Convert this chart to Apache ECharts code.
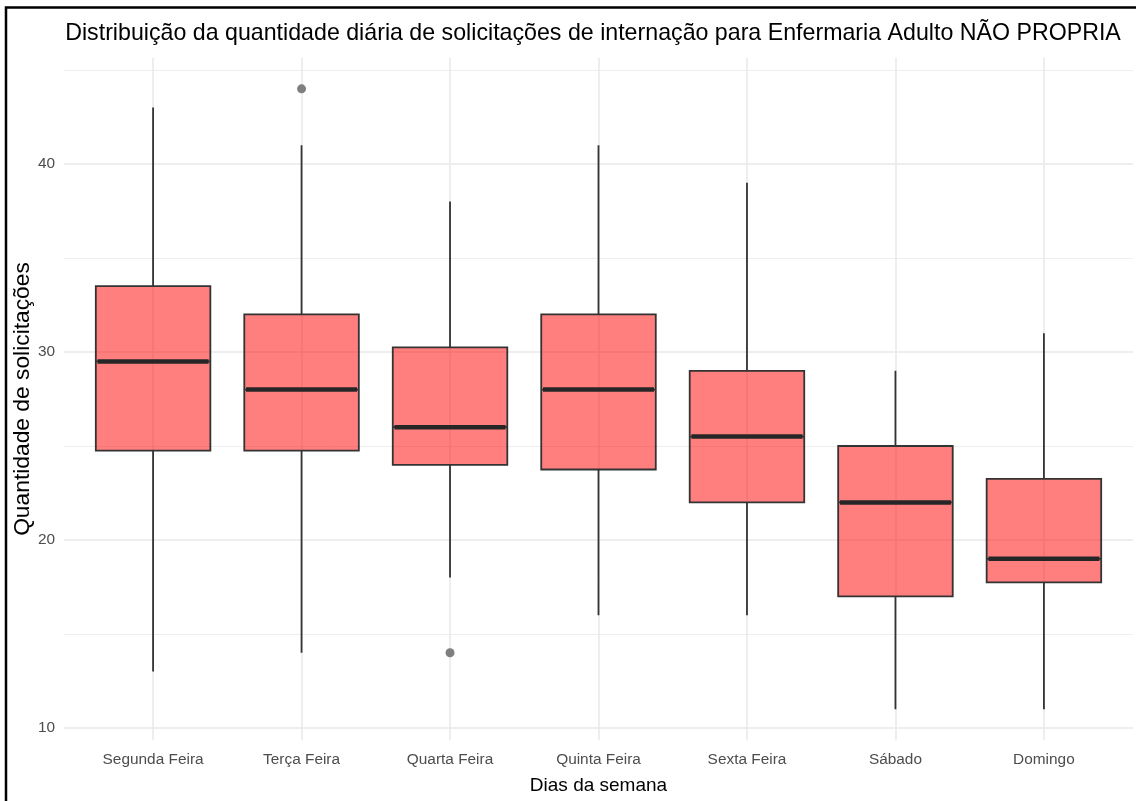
<!DOCTYPE html>
<html>
<head>
<meta charset="utf-8">
<script src="https://cdn.jsdelivr.net/npm/echarts@6/dist/echarts.min.js"></script>
<style>
html,body{margin:0;padding:0;background:#fff;}
#chart{width:1136px;height:801px;}
</style>
</head>
<body>
<div id="chart"></div>
<script>
const categories = ['Segunda Feira','Terça Feira','Quarta Feira','Quinta Feira','Sexta Feira','Sábado','Domingo'];
const whiskerMin = [13, 14, 18, 16, 16, 11, 11];
const q1 =        [24.75, 24.75, 24, 23.75, 22, 17, 17.75];
const median =    [29.5, 28, 26, 28, 25.5, 22, 19];
const q3 =        [33.5, 32, 30.25, 32, 29, 25, 23.25];
const whiskerMax = [43, 41, 38, 41, 39, 29, 31];
// outliers: [category index (1-based), value]
const outliers = [[2, 44], [3, 14]];
const yTicks = [10, 20, 30, 40];

const FONT = "'Liberation Sans Narrow', 'Arial Narrow', 'Liberation Sans', Arial, sans-serif";

const boxData = categories.map((c, i) => [i + 1, q1[i], q1[i], median[i], q3[i], q3[i]]);
const medianData = categories.map((c, i) => [i + 1, median[i]]);
const whiskerData = [];
categories.forEach((c, i) => {
  whiskerData.push([i + 1, whiskerMin[i]], [i + 1, q1[i]], [i + 1, '-']);
  whiskerData.push([i + 1, q3[i]], [i + 1, whiskerMax[i]], [i + 1, '-']);
});

const chart = echarts.init(document.getElementById('chart'), null, {renderer: 'canvas'});
chart.setOption({
  animation: false,
  backgroundColor: '#ffffff',
  title: {
    text: 'Distribuição da quantidade diária de solicitações de internação para Enfermaria Adulto NÃO PROPRIA',
    left: 588, top: 17, textAlign: 'center',
    textStyle: {fontFamily: FONT, fontSize: 23.2, fontWeight: 'normal', color: '#000'}
  },
  grid: {left: 64, right: 3, top: 57.8, bottom: 60.8, containLabel: false, outerBoundsMode: 'none'},
  xAxis: {
    type: 'value', min: 0.4, max: 7.6, minInterval: 1, maxInterval: 1,
    name: 'Dias da semana', nameLocation: 'middle', nameGap: 36, nameMoveOverlap: false,
    nameTextStyle: {fontFamily: FONT, fontSize: 19, color: '#000'},
    axisLine: {show: false}, axisTick: {show: false},
    axisLabel: {
      showMinLabel: false, showMaxLabel: false, margin: 12,
      fontFamily: FONT, fontSize: 15.4, color: '#4d4d4d',
      formatter: v => Number.isInteger(v) && v >= 1 && v <= categories.length ? categories[v - 1] : ''
    },
    splitLine: {show: true, showMinLine: false, showMaxLine: false, lineStyle: {color: '#e8e8e8', width: 1.5}}
  },
  yAxis: {
    type: 'value', min: 9.35, max: 45.65, minInterval: 10, maxInterval: 10,
    name: 'Quantidade de solicitações', nameLocation: 'middle', nameGap: 30, nameMoveOverlap: false,
    nameTextStyle: {fontFamily: FONT, fontSize: 22.8, color: '#000'},
    axisLine: {show: false}, axisTick: {show: false},
    axisLabel: {
      showMinLabel: false, showMaxLabel: false, margin: 9,
      fontFamily: FONT, fontSize: 15.4, color: '#4d4d4d',
      formatter: v => yTicks.includes(v) ? String(v) : ''
    },
    splitLine: {show: true, showMinLine: false, showMaxLine: false, lineStyle: {color: '#e8e8e8', width: 1.5}},
    minorTick: {show: false, splitNumber: 2},
    minorSplitLine: {show: true, lineStyle: {color: '#eeeeee', width: 1}}
  },
  graphic: [{
    type: 'polyline', silent: true,
    shape: {points: [[6, 820], [6, 7.5], [1150, 7.5]]},
    style: {stroke: '#000', lineWidth: 2.5, fill: null}
  }],
  series: [
    {
      type: 'line', data: whiskerData, connectNulls: false, showSymbol: false, symbol: 'none',
      lineStyle: {color: '#333333', width: 1.8}, z: 2, silent: true
    },
    {
      type: 'boxplot', data: boxData, boxWidth: ['75%', '75%'], z: 3,
      itemStyle: {color: 'rgba(255,0,0,0.5)', borderColor: '#333333', borderWidth: 1.8}
    },
    {
      type: 'scatter', data: medianData, symbol: 'rect', symbolSize: [111, 4.5], z: 4,
      itemStyle: {color: '#262626', opacity: 1}
    },
    {
      type: 'scatter', data: outliers, symbol: 'circle', symbolSize: 9, z: 4,
      itemStyle: {color: '#7f7f7f', opacity: 1}
    }
  ]
});
</script>
</body>
</html>
